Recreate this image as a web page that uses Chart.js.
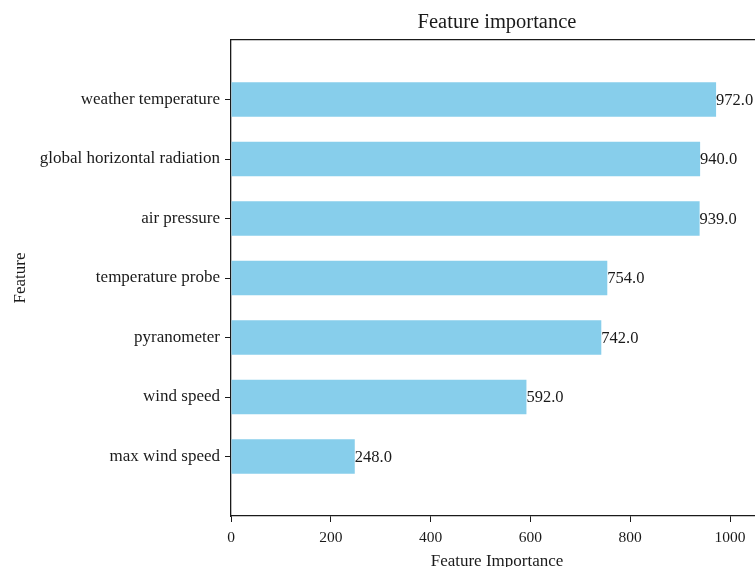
<!DOCTYPE html>
<html lang="en">
<head>
  <meta charset="UTF-8">
  <title>Feature importance</title>
  <script src="https://cdn.jsdelivr.net/npm/chart.js"></script>
  <style>
    html, body { margin: 0; padding: 0; background: #fff; overflow: hidden; }
    .chart-container { width: 780px; height: 575px; }
  </style>
</head>
<body>
  <div class="chart-container">
    <canvas id="chartCanvas"></canvas>
  </div>

  <script>
    // top to bottom, as in the picture
    const features = ["weather temperature", "global horizontal radiation", "air pressure",
                      "temperature probe", "pyranometer", "wind speed", "max wind speed"];
    const importance = [972, 940, 939, 754, 742, 592, 248];

    // one empty slot above and below, like the matplotlib margins
    const labels = [""].concat(features, [""]);
    const values = [null].concat(importance, [null]);

    const serif = "'Liberation Serif', 'Times New Roman', Times, serif";
    const ink = "#1a1a1a";

    // value text at the end of each bar
    const valueLabels = {
      id: "valueLabels",
      afterDatasetsDraw(chart) {
        const ctx = chart.ctx;
        const meta = chart.getDatasetMeta(0);
        ctx.save();
        ctx.font = "16.5px " + serif;
        ctx.fillStyle = ink;
        ctx.textAlign = "left";
        ctx.textBaseline = "middle";
        meta.data.forEach((bar, i) => {
          if (values[i] == null) return;
          ctx.fillText(values[i].toFixed(1), bar.x, bar.y + 1);
        });
        ctx.restore();
      }
    };

    const edgeTick = (c) => (c.index === 0 || c.index === labels.length - 1) ? "rgba(0,0,0,0)" : ink;

    new Chart(document.getElementById("chartCanvas"), {
      type: "bar",
      data: {
        labels: labels,
        datasets: [{
          data: values,
          backgroundColor: "#87CEEB",
          borderWidth: 0,
          barPercentage: 0.58,
          categoryPercentage: 1
        }]
      },
      plugins: [valueLabels],
      options: {
        indexAxis: "y",
        responsive: true,
        maintainAspectRatio: false,
        animation: false,
        layout: { padding: { left: 0, right: 17, top: 0, bottom: 0 } },
        plugins: {
          legend: { display: false },
          tooltip: { enabled: false }
        },
        scales: {
          x: {
            type: "linear",
            position: "bottom",
            min: 0,
            max: 1066,
            afterFit: (s) => { s.height = 59; },
            ticks: { stepSize: 200, includeBounds: false, color: ink, padding: 7,
                     callback: (v) => String(v),
                     font: { family: serif, size: 15.5 } },
            grid: { drawOnChartArea: false, tickLength: 6, tickColor: ink, tickWidth: 1 },
            border: { display: true, color: ink, width: 1.3 },
            title: { display: true, text: "Feature Importance", color: ink, padding: { top: 0, bottom: 3 },
                     font: { family: serif, size: 17 } }
          },
          top: {
            type: "linear",
            position: "top",
            min: 0,
            max: 1,
            afterFit: (s) => { s.height = 40; },
            ticks: { display: false },
            grid: { display: false },
            border: { display: true, color: ink, width: 1.3 },
            title: { display: true, text: "Feature importance", color: ink, padding: { top: 10, bottom: 0 },
                     font: { family: serif, size: 20.5 } }
          },
          y: {
            type: "category",
            offset: false,
            afterFit: (s) => { s.width = 231; },
            ticks: { autoSkip: false, color: ink, padding: 5,
                     font: { family: serif, size: 17 } },
            grid: { drawOnChartArea: false, offset: false, tickLength: 6, tickColor: edgeTick, tickWidth: 1 },
            border: { display: true, color: ink, width: 1.3 },
            title: { display: true, text: "Feature", color: ink, padding: { top: 10, bottom: 0 },
                     font: { family: serif, size: 17 } }
          }
        }
      }
    });
  </script>
</body>
</html>
